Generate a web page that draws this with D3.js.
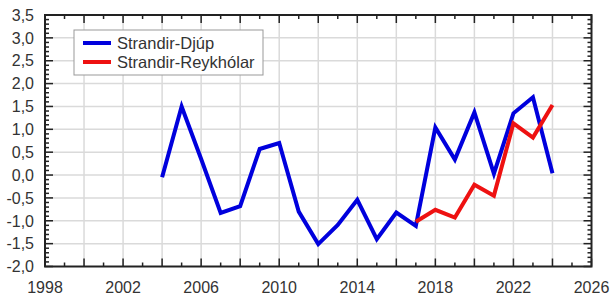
<!DOCTYPE html>
<html>
<head>
<meta charset="utf-8">
<script src="https://cdn.jsdelivr.net/npm/d3@7"></script>
<style>
  body { margin: 0; background: #fff; }
  svg { display: block; font-family: "Liberation Sans", Arial, sans-serif; }
</style>
</head>
<body>
<svg id="chart" width="611" height="300"></svg>
<script>
const djupYears = [2004, 2005, 2006, 2007, 2008, 2009, 2010, 2011, 2012, 2013, 2014,
  2015, 2016, 2017, 2018, 2019, 2020, 2021, 2022, 2023, 2024];
const djupValues = [-0.05, 1.5, 0.35, -0.83, -0.68, 0.57, 0.7, -0.8, -1.51, -1.09, -0.54,
  -1.4, -0.82, -1.11, 1.04, 0.34, 1.37, 0.03, 1.35, 1.7, 0.04];

const reykYears = [2017, 2018, 2019, 2020, 2021, 2022, 2023, 2024];
const reykValues = [-1.02, -0.76, -0.93, -0.21, -0.45, 1.13, 0.82, 1.53];

const seriesNames = ["Strandir-Djúp", "Strandir-Reykhólar"];
const seriesColors = ["#0000dd", "#ee1111"];

const xTicks = [1998, 2002, 2006, 2010, 2014, 2018, 2022, 2026];
const yTicks = [-2, -1.5, -1, -0.5, 0, 0.5, 1, 1.5, 2, 2.5, 3, 3.5];

const svg = d3.select("#chart");
const plotLeft = 45, plotRight = 591.5, plotTop = 15, plotBottom = 266.5;

const x = d3.scaleLinear().domain([1998, 2026]).range([plotLeft, plotRight]);
const y = d3.scaleLinear().domain([-2, 3.5]).range([plotBottom, plotTop]);

const fmt = (v) => d3.format(".1f")(v).replace(".", ",").replace("−", "-");

// grid
const grid = svg.append("g").attr("stroke", "#dadada").attr("stroke-width", 1.5);
d3.range(2000, 2026, 2).forEach((yr) => {
  grid.append("line").attr("x1", x(yr)).attr("x2", x(yr)).attr("y1", plotTop).attr("y2", plotBottom);
});
yTicks.slice(1, -1).forEach((v) => {
  grid.append("line").attr("x1", plotLeft).attr("x2", plotRight).attr("y1", y(v)).attr("y2", y(v));
});

// ticks
const ticks = svg.append("g").attr("stroke", "#222").attr("stroke-width", 1.5);
d3.range(1998, 2027, 1).forEach((yr) => {
  const len = yr % 2 === 0 ? 8 : 4;
  ticks.append("line").attr("x1", x(yr)).attr("x2", x(yr)).attr("y1", plotBottom).attr("y2", plotBottom - len);
  ticks.append("line").attr("x1", x(yr)).attr("x2", x(yr)).attr("y1", plotTop).attr("y2", plotTop + len);
});
d3.range(-20, 36, 1).forEach((k) => {
  const v = k / 10;
  const len = k % 5 === 0 ? 8 : 4;
  ticks.append("line").attr("x1", plotLeft).attr("x2", plotLeft + len).attr("y1", y(v)).attr("y2", y(v));
  ticks.append("line").attr("x1", plotRight).attr("x2", plotRight - len).attr("y1", y(v)).attr("y2", y(v));
});

// frame
svg.append("rect")
  .attr("x", plotLeft).attr("y", plotTop)
  .attr("width", plotRight - plotLeft).attr("height", plotBottom - plotTop)
  .attr("fill", "none").attr("stroke", "#222").attr("stroke-width", 2);

// tick labels
svg.append("g").selectAll("text").data(yTicks).enter().append("text")
  .attr("x", 34).attr("y", (d) => y(d)).attr("dy", "0.36em")
  .attr("text-anchor", "end").attr("font-size", 16).attr("fill", "#333")
  .text(fmt);

svg.append("g").selectAll("text").data(xTicks).enter().append("text")
  .attr("x", (d) => x(d)).attr("y", 292.5)
  .attr("text-anchor", "middle").attr("font-size", 16).attr("fill", "#333")
  .text((d) => d);

// lines
const line = d3.line().x((d) => x(d[0])).y((d) => y(d[1]));
const djup = djupYears.map((yr, i) => [yr, djupValues[i]]);
const reyk = reykYears.map((yr, i) => [yr, reykValues[i]]);

svg.append("path").datum(djup).attr("d", line)
  .attr("fill", "none").attr("stroke", seriesColors[0]).attr("stroke-width", 4)
  .attr("stroke-linejoin", "miter");
svg.append("path").datum(reyk).attr("d", line)
  .attr("fill", "none").attr("stroke", seriesColors[1]).attr("stroke-width", 4)
  .attr("stroke-linejoin", "miter");

// legend
const legend = svg.append("g");
legend.append("rect")
  .attr("x", 74).attr("y", 30).attr("width", 189).attr("height", 45)
  .attr("fill", "#fff").attr("stroke", "#999").attr("stroke-width", 1);
seriesNames.forEach((name, i) => {
  const ly = 43 + i * 19;
  legend.append("line").attr("x1", 83).attr("x2", 111).attr("y1", ly).attr("y2", ly)
    .attr("stroke", seriesColors[i]).attr("stroke-width", 4);
  legend.append("text").attr("x", 117).attr("y", ly).attr("dy", "0.36em")
    .attr("font-size", 16.5).attr("fill", "#333").text(name);
});
</script>
</body>
</html>
